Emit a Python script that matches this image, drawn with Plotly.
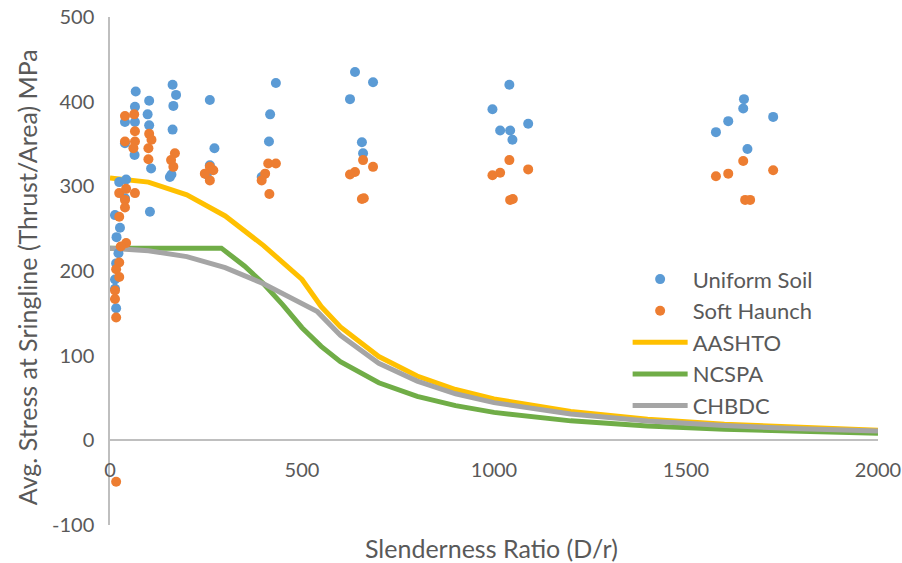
import plotly.graph_objects as go

# ---- data ----
uniform_x = [67, 65, 102, 163, 172, 165, 260, 39, 65, 98, 102, 163, 39, 64, 107, 272, 156, 160,
             260, 252, 24, 42, 104, 13, 26, 17, 22, 16, 13, 13, 16, 39, 432, 417, 414, 395,
             638, 625, 656, 659, 685, 996, 1016, 1042, 1089, 1048, 1040,
             1651, 1649, 1610, 1578, 1660, 1727]
uniform_y = [412, 394, 401, 420, 408, 395, 402, 376, 376, 385, 372, 367, 351, 337, 321, 345, 311, 314,
             325, 314, 305, 308, 270, 266, 251, 240, 221, 209, 190, 179, 156, 286, 422, 385, 353, 311,
             435, 403, 352, 339, 423, 391, 366, 366, 374, 355, 420,
             403, 392, 377, 364, 344, 382]

soft_x = [39, 63, 65, 102, 108, 39, 65, 61, 100, 100, 169, 159, 165, 260, 269, 260, 247,
          24, 42, 65, 39, 39, 24, 42, 28, 24, 16, 24, 13, 13, 16, 16,
          415, 412, 432, 404, 395, 659, 638, 625, 685, 656, 661,
          1040, 1016, 996, 1089, 1042, 1049, 1649, 1610, 1578, 1654, 1667, 1727]
soft_y = [383, 385, 365, 362, 355, 353, 353, 345, 345, 332, 339, 331, 323, 323, 319, 307, 315,
          292, 297, 292, 284, 275, 264, 233, 229, 210, 202, 193, 177, 167, 145, -49,
          291, 327, 327, 315, 307, 331, 317, 314, 323, 285, 286,
          331, 316, 313, 320, 284, 285, 330, 315, 312, 284, 284, 319]

aashto_x = [0, 100, 200, 300, 400, 500, 550, 600, 700, 800, 900, 1000, 1200, 1400, 1600, 1800, 2000]
aashto_y = [310, 305, 290, 265, 230, 190, 158, 134, 99, 76, 60, 49, 34, 25, 19, 15, 12]

ncspa_x = [0, 100, 200, 290, 350, 400, 450, 500, 550, 600, 700, 800, 900, 1000, 1200, 1400, 1600, 1800, 2000]
ncspa_y = [227, 227, 227, 227, 206, 185, 160, 133, 111, 93, 68, 52, 41, 33, 23, 17, 13, 10, 8.4]

chbdc_x = [0, 100, 200, 300, 400, 500, 540, 600, 700, 800, 900, 1000, 1200, 1400, 1600, 1800, 2000]
chbdc_y = [227, 224, 217, 204, 185, 162, 152, 124, 91, 70, 55, 44.5, 31, 22.7, 17.4, 13.7, 11.1]

x_ticks = [0, 500, 1000, 1500, 2000]
x_labels = ["0", "500", "1000", "1500", "2000"]
y_ticks = [-100, 0, 100, 200, 300, 400, 500]
y_labels = ["-100", "0", "100", "200", "300", "400", "500"]

FONT = "Lato"
TXT = "#595959"
AX = "#bfbfbf"
TICK_SIZE = 20
LEGEND_SIZE = 22
TITLE_SIZE = 25

fig = go.Figure()
fig.add_trace(go.Scatter(x=aashto_x, y=aashto_y, mode="lines", name="AASHTO",
                         line=dict(color="#FFC000", width=5)))
fig.add_trace(go.Scatter(x=ncspa_x, y=ncspa_y, mode="lines", name="NCSPA",
                         line=dict(color="#70AD47", width=5)))
fig.add_trace(go.Scatter(x=chbdc_x, y=chbdc_y, mode="lines", name="CHBDC",
                         line=dict(color="#A5A5A5", width=5)))
fig.add_trace(go.Scatter(x=uniform_x, y=uniform_y, mode="markers", name="Uniform Soil",
                         marker=dict(color="#5B9BD5", size=10)))
fig.add_trace(go.Scatter(x=soft_x, y=soft_y, mode="markers", name="Soft Haunch",
                         marker=dict(color="#ED7D31", size=10)))

# legend order: Uniform Soil, Soft Haunch, AASHTO, NCSPA, CHBDC
ranks = {"Uniform Soil": 1, "Soft Haunch": 2, "AASHTO": 3, "NCSPA": 4, "CHBDC": 5}
for tr in fig.data:
    tr.legendrank = ranks[tr.name]

fig.update_layout(
    width=902, height=563,
    margin=dict(l=110, r=24, t=17, b=38, autoexpand=False),
    paper_bgcolor="white", plot_bgcolor="white",
    font=dict(family=FONT, size=TICK_SIZE, color=TXT),
    showlegend=True,
    legend=dict(x=0.674, y=0.525, xanchor="left", yanchor="top",
                bgcolor="rgba(0,0,0,0)", font=dict(size=LEGEND_SIZE, color=TXT),
                itemwidth=55),
    xaxis=dict(range=[0, 2000], tickvals=x_ticks, ticktext=x_labels, showgrid=False,
               zeroline=False, automargin=False, ticklabeloverflow="allow",
               showline=False, ticks="", anchor="free", position=0.135,
               tickfont=dict(size=TICK_SIZE, color=TXT)),
    yaxis=dict(range=[-100, 500], tickvals=y_ticks, ticktext=y_labels, showgrid=False,
               automargin=False, ticklabeloverflow="allow",
               zeroline=True, zerolinecolor=AX, zerolinewidth=1.5,
               showline=True, linecolor=AX, linewidth=1.5, ticks="",
               ticklabelstandoff=10, tickfont=dict(size=TICK_SIZE, color=TXT)),
    annotations=[
        dict(text="Slenderness Ratio (D/r)", xref="paper", yref="paper", x=0.497, y=-0.045,
             xanchor="center", yanchor="middle", showarrow=False,
             font=dict(size=TITLE_SIZE, color=TXT, family=FONT)),
        dict(text="Avg. Stress at Sringline (Thrust/Area) MPa", xref="paper", yref="paper",
             x=-0.108, y=0.488, xanchor="center", yanchor="middle", textangle=-90,
             showarrow=False, font=dict(size=TITLE_SIZE, color=TXT, family=FONT)),
    ],
)

# remove the page's default body margin so the 902x563 figure fills the window exactly
fig.write_html("out.html", config={"displayModeBar": False},
               post_script="document.body.style.margin='0';document.body.style.overflow='hidden';")
